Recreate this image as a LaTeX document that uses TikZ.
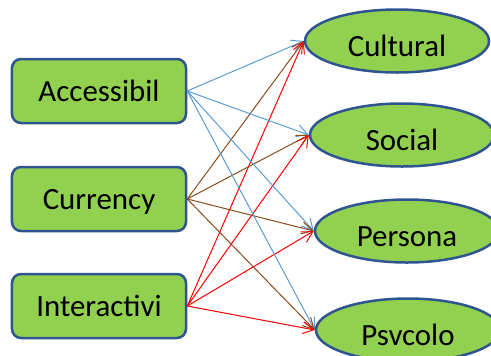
\documentclass[tikz,border=0pt]{standalone}
\usepackage{fontspec}
\setmainfont{Carlito}
\usetikzlibrary{shapes.geometric,arrows.meta}
\definecolor{boxgreen}{HTML}{92D050}
\definecolor{boxedge}{HTML}{2F5590}
\definecolor{lblue}{HTML}{5B9BD5}
\definecolor{lbrown}{HTML}{8B4A1C}
\definecolor{lred}{HTML}{FF0000}
\tikzset{
  srcbox/.style={draw=boxedge, line width=2.5bp, fill=boxgreen, rounded corners=9bp,
    minimum width=174bp, minimum height=64bp, inner sep=0pt,
    font=\fontsize{31}{37}\selectfont, text height=20bp, text depth=0bp},
  tgtell/.style={ellipse, draw=boxedge, line width=2.5bp, fill=boxgreen,
    minimum width=184bp, minimum height=63bp, inner sep=0pt,
    font=\fontsize{31}{37}\selectfont, text height=30bp, text depth=0bp},
  link/.style={line width=1bp, -{Straight Barb[length=11bp,width=12bp]}},
  lb/.style={link, draw=lblue},
  lw/.style={link, draw=lbrown},
  lr/.style={link, draw=lred}
}
\begin{document}
\begin{tikzpicture}[x=1bp,y=-1bp]
\useasboundingbox (0,0) rectangle (491,355);
\clip (0,0) rectangle (491,355);
\node[srcbox] (acc) at (99,91) {Accessibil};
\node[srcbox] (cur) at (99,199) {Currency};
\node[srcbox] (int) at (99,306) {Interactivi};
\node[tgtell] (cul) at (397,41) {Cultural};
\node[tgtell] (soc) at (402,135) {Social};
\node[tgtell] (per) at (407,231) {Persona};
\node[tgtell] (psy) at (408,330) {Psvcolo};
\foreach \t in {cul,soc,per,psy}{
  \draw[lb] (acc.east) -- (\t.west);
  \draw[lw] (cur.east) -- (\t.west);
  \draw[lr] (int.east) -- (\t.west);
}
\end{tikzpicture}
\end{document}
